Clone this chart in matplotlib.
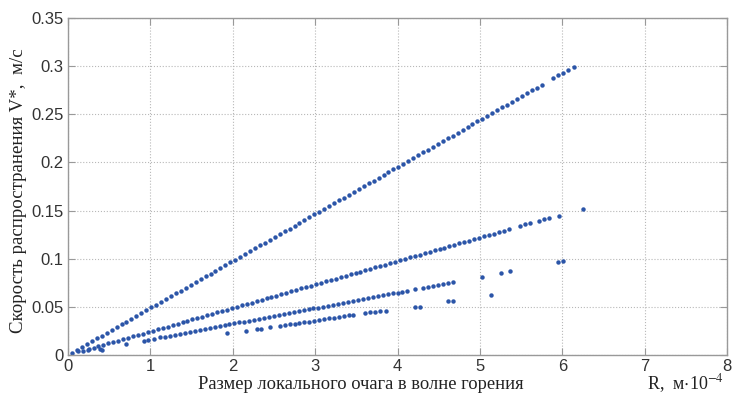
import numpy as np
import matplotlib
matplotlib.use('Agg')
import matplotlib.pyplot as plt

# upper series
r_a = [0.05, 0.11, 0.17, 0.23, 0.29, 0.35, 0.41, 0.47, 0.53, 0.59, 0.65, 0.71, 0.77, 0.83, 0.89, 0.95,
       1.01, 1.07, 1.13, 1.19, 1.25, 1.31, 1.37, 1.43, 1.49, 1.55, 1.61, 1.67, 1.73, 1.79, 1.85, 1.91,
       1.97, 2.03, 2.09, 2.15, 2.21, 2.27, 2.33, 2.39, 2.45, 2.51, 2.57, 2.63, 2.69, 2.75, 2.81, 2.87,
       2.93, 2.99, 3.05, 3.11, 3.17, 3.23, 3.29, 3.35, 3.41, 3.47, 3.53, 3.59, 3.65, 3.71, 3.77, 3.83,
       3.89, 3.95, 4.01, 4.07, 4.13, 4.19, 4.25, 4.31, 4.37, 4.43, 4.49, 4.55, 4.61, 4.67, 4.73, 4.79,
       4.85, 4.91, 4.97, 5.03, 5.09, 5.15, 5.21, 5.27, 5.33, 5.39, 5.45, 5.51, 5.57, 5.63, 5.69, 5.75,
       5.89, 5.95, 6.01, 6.07, 6.14]
v_a = [0.0024, 0.0054, 0.0083, 0.0112, 0.0142, 0.0171, 0.0200, 0.0229, 0.0259, 0.0288, 0.0317, 0.0346,
       0.0376, 0.0405, 0.0434, 0.0464, 0.0493, 0.0522, 0.0551, 0.0581, 0.0610, 0.0639, 0.0669, 0.0698,
       0.0727, 0.0756, 0.0786, 0.0815, 0.0844, 0.0874, 0.0903, 0.0932, 0.0961, 0.0991, 0.1020, 0.1049,
       0.1078, 0.1108, 0.1137, 0.1166, 0.1196, 0.1225, 0.1254, 0.1283, 0.1313, 0.1342, 0.1371, 0.1401,
       0.1430, 0.1459, 0.1488, 0.1518, 0.1547, 0.1576, 0.1606, 0.1635, 0.1664, 0.1693, 0.1723, 0.1752,
       0.1781, 0.1810, 0.1840, 0.1869, 0.1898, 0.1928, 0.1957, 0.1986, 0.2015, 0.2045, 0.2074, 0.2103,
       0.2133, 0.2162, 0.2191, 0.2220, 0.2250, 0.2279, 0.2308, 0.2338, 0.2367, 0.2396, 0.2425, 0.2455,
       0.2484, 0.2513, 0.2542, 0.2572, 0.2601, 0.2630, 0.2660, 0.2689, 0.2718, 0.2747, 0.2777, 0.2806,
       0.2874, 0.2904, 0.2933, 0.2962, 0.2996]

# second series
r_b = [0.25, 0.31, 0.37, 0.43, 0.49, 0.55, 0.61, 0.67, 0.73, 0.79, 0.85, 0.91, 0.97, 1.03, 1.09, 1.15,
       1.21, 1.27, 1.33, 1.39, 1.45, 1.51, 1.57, 1.63, 1.69, 1.75, 1.81, 1.87, 1.93, 1.99, 2.05, 2.11,
       2.17, 2.23, 2.29, 2.35, 2.41, 2.47, 2.53, 2.59, 2.65, 2.71, 2.77, 2.83, 2.89, 2.95, 3.01, 3.07,
       3.13, 3.19, 3.25, 3.31, 3.37, 3.43, 3.49, 3.55, 3.61, 3.67, 3.73, 3.79, 3.85, 3.91, 3.97, 4.03,
       4.09, 4.15, 4.21, 4.27, 4.33, 4.39, 4.45, 4.51, 4.57, 4.63, 4.69, 4.75, 4.81, 4.87, 4.93, 4.99,
       5.05, 5.11, 5.17, 5.23, 5.29, 5.35, 5.49, 5.55, 5.61, 5.72, 5.78, 5.84, 5.96, 6.25]
v_b = [0.0061, 0.0076, 0.0090, 0.0105, 0.0120, 0.0134, 0.0149, 0.0163, 0.0178, 0.0193, 0.0207, 0.0222,
       0.0237, 0.0251, 0.0266, 0.0281, 0.0295, 0.0310, 0.0325, 0.0339, 0.0354, 0.0368, 0.0383, 0.0398,
       0.0412, 0.0427, 0.0442, 0.0456, 0.0471, 0.0486, 0.0500, 0.0515, 0.0529, 0.0544, 0.0559, 0.0573,
       0.0588, 0.0603, 0.0617, 0.0632, 0.0647, 0.0661, 0.0676, 0.0691, 0.0705, 0.0720, 0.0734, 0.0749,
       0.0764, 0.0778, 0.0793, 0.0808, 0.0822, 0.0837, 0.0852, 0.0866, 0.0881, 0.0895, 0.0910, 0.0925,
       0.0939, 0.0954, 0.0969, 0.0983, 0.0998, 0.1013, 0.1027, 0.1042, 0.1057, 0.1071, 0.1086, 0.1100,
       0.1115, 0.1130, 0.1144, 0.1159, 0.1174, 0.1188, 0.1203, 0.1218, 0.1232, 0.1247, 0.1261, 0.1276,
       0.1291, 0.1305, 0.1340, 0.1355, 0.1370, 0.1395, 0.1410, 0.1420, 0.1447, 0.1520]

# third series
r_c = [0.39, 0.70, 0.92, 0.97, 1.05, 1.12, 1.18, 1.24, 1.30, 1.36, 1.42, 1.48, 1.54, 1.60, 1.66, 1.72,
       1.78, 1.84, 1.90, 1.96, 2.02, 2.08, 2.14, 2.20, 2.26, 2.32, 2.38, 2.44, 2.50, 2.56, 2.62, 2.68,
       2.74, 2.80, 2.86, 2.92, 2.98, 3.04, 3.10, 3.16, 3.22, 3.28, 3.34, 3.40, 3.46, 3.52, 3.58, 3.64,
       3.70, 3.76, 3.82, 3.88, 3.94, 4.00, 4.06, 4.12, 4.21, 4.31, 4.37, 4.43, 4.49, 4.55, 4.61, 4.67]
v_c = [0.0063, 0.0113, 0.0149, 0.0157, 0.0170, 0.0181, 0.0191, 0.0201, 0.0211, 0.0220, 0.0230, 0.0240,
       0.0249, 0.0259, 0.0269, 0.0279, 0.0288, 0.0298, 0.0308, 0.0318, 0.0327, 0.0337, 0.0347, 0.0356,
       0.0366, 0.0376, 0.0386, 0.0395, 0.0405, 0.0415, 0.0424, 0.0434, 0.0444, 0.0454, 0.0463, 0.0473,
       0.0483, 0.0492, 0.0502, 0.0512, 0.0522, 0.0531, 0.0541, 0.0551, 0.0561, 0.0570, 0.0580, 0.0590,
       0.0599, 0.0609, 0.0619, 0.0629, 0.0638, 0.0648, 0.0658, 0.0667, 0.0680, 0.0698, 0.0708, 0.0718,
       0.0727, 0.0737, 0.0747, 0.0757]

# lowest series
r_d = [1.93, 2.16, 2.29, 2.34, 2.45, 2.57, 2.63, 2.69, 2.75, 2.81, 2.87, 2.93, 2.99, 3.05, 3.11, 3.17,
       3.23, 3.29, 3.35, 3.41, 3.46, 3.60, 3.66, 3.73, 3.79, 3.86]
v_d = [0.0230, 0.0250, 0.0270, 0.0270, 0.0290, 0.0300, 0.0308, 0.0316, 0.0324, 0.0331, 0.0339, 0.0347,
       0.0355, 0.0363, 0.0371, 0.0379, 0.0386, 0.0394, 0.0402, 0.0410, 0.0417, 0.0440, 0.0444, 0.0449,
       0.0453, 0.0457]

# scattered points
r_e = [0.12, 0.18, 0.24, 0.41, 4.21, 4.27, 4.61, 4.67, 5.02, 5.14, 5.26, 5.37, 5.95, 6.01]
v_e = [0.0040, 0.0040, 0.0050, 0.0050, 0.0500, 0.0500, 0.0560, 0.0565, 0.0810, 0.0620, 0.0850, 0.0870,
       0.0966, 0.0976]

dot_color = '#2b55a8'
serif = ['Liberation Serif', 'DejaVu Serif']
plt.rcParams['font.family'] = 'sans-serif'
plt.rcParams['font.sans-serif'] = ['Liberation Sans']
plt.rcParams['mathtext.fontset'] = 'stix'

fig = plt.figure(figsize=(7.32, 3.97), dpi=100)
ax = fig.add_axes([0.0929, 0.106, 0.9003, 0.8487])

for r, v in [(r_a, v_a), (r_b, v_b), (r_c, v_c), (r_d, v_d), (r_e, v_e)]:
    ax.plot(r, v, 'o', color=dot_color, markersize=3.2, markeredgewidth=0)

ax.set_xlim(0, 8)
ax.set_ylim(0, 0.35)
ax.set_xticks(np.arange(0, 9, 1))
ax.set_yticks(np.arange(0, 0.36, 0.05))
ax.set_xticklabels([str(i) for i in range(9)])
ax.set_yticklabels(['0', '0.05', '0.1', '0.15', '0.2', '0.25', '0.3', '0.35'])
ax.grid(True, linestyle=':', color='#b8b8b8', linewidth=0.8)
ax.tick_params(direction='in', length=5, top=True, right=True, labelsize=12,
               colors='#999999', labelcolor='#333333', pad=3)
for s in ax.spines.values():
    s.set_color('#999999')
    s.set_linewidth(1.0)

fig.text(0.025, 0.52, 'Скорость распространения V*,  м/с', rotation=90, va='center', ha='center',
         fontsize=13.6, family=serif, color='#222222')
fig.text(0.27, 0.032, 'Размер локального очага в волне горения', ha='left', va='center',
         fontsize=13.3, family=serif, color='#222222')
fig.text(0.884, 0.034, 'R,  м$\\cdot$10$^{-4}$', ha='left', va='center',
         fontsize=13, family=serif, color='#222222')

fig.savefig('out.png', dpi=100)
